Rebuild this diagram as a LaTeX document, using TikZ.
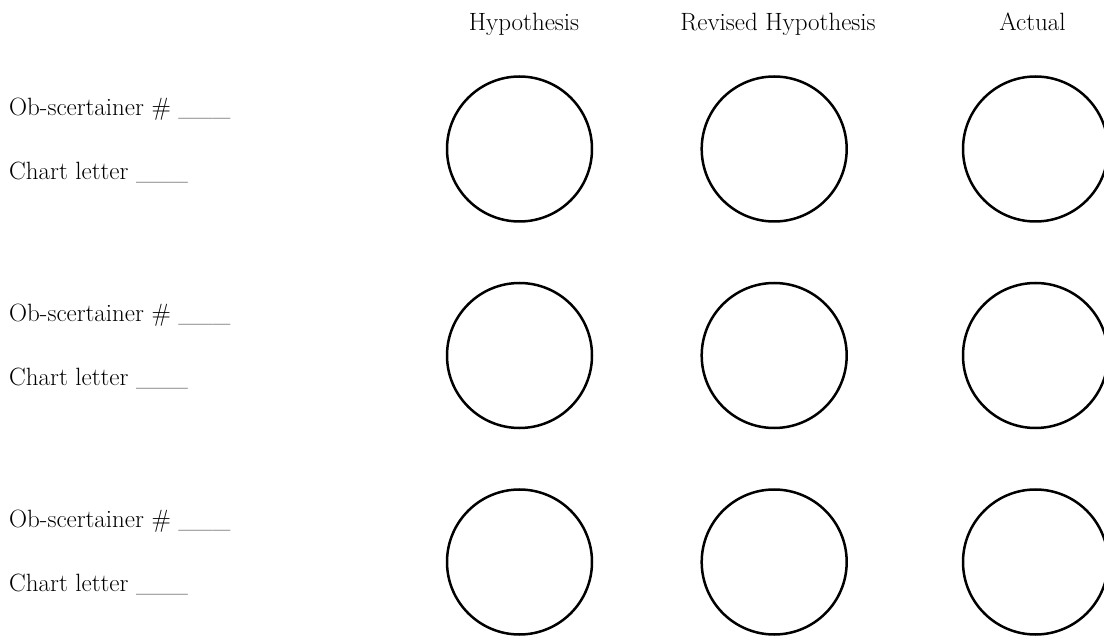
\documentclass[tikz,border=0pt]{standalone}
\usepackage{fontspec}
\begin{document}
\begin{tikzpicture}[x=1pt,y=1pt,
  ring/.style={circle,draw=black,line width=2.5pt,minimum size=145pt,inner sep=0pt},
  head/.style={anchor=base,inner sep=0pt,font=\fontsize{25}{29}\selectfont},
  lab/.style={anchor=base west,inner sep=0pt,font=\fontsize{25}{29}\selectfont}]
\useasboundingbox (0,0) rectangle (1104,-636);
\fill[white] (0,0) rectangle (1104,-636);
% column headings
\node[head] (h1) at (524,-31) {Hypothesis};
\node[head] (h2) at (778,-31) {Revised Hypothesis};
\node[head] (h3) at (1032.5,-31) {Actual};
% row labels
\node[lab] (o1) at (9,-116) {Ob-scertainer \# \_\_\_};
\node[lab] (c1) at (9,-180) {Chart letter \_\_\_};
\node[lab] (o2) at (9,-322) {Ob-scertainer \# \_\_\_};
\node[lab] (c2) at (9,-386) {Chart letter \_\_\_};
\node[lab] (o3) at (9,-527) {Ob-scertainer \# \_\_\_};
\node[lab] (c3) at (9,-591) {Chart letter \_\_\_};
% circles
\node[ring] (r1a) at (519.5,-149) {};
\node[ring] (r1b) at (774.2,-149) {};
\node[ring] (r1c) at (1035.5,-149) {};
\node[ring] (r2a) at (519.5,-355.5) {};
\node[ring] (r2b) at (774.2,-355.5) {};
\node[ring] (r2c) at (1035.5,-355.5) {};
\node[ring] (r3a) at (519.5,-562) {};
\node[ring] (r3b) at (774.2,-562) {};
\node[ring] (r3c) at (1035.5,-562) {};
\end{tikzpicture}
\end{document}
